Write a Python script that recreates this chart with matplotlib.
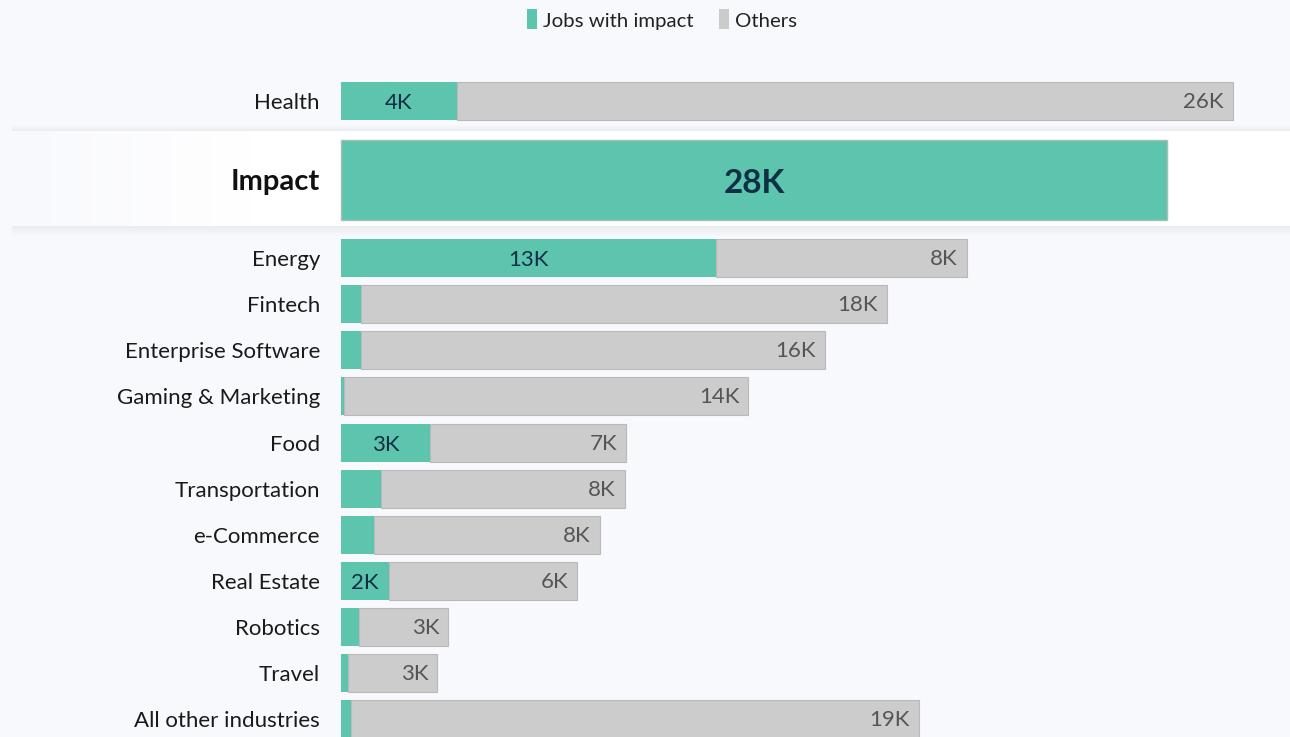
import matplotlib
matplotlib.use("Agg")
import matplotlib.pyplot as plt
from matplotlib.patches import Rectangle
from matplotlib.colors import LinearSegmentedColormap
import numpy as np

plt.rcParams['font.family'] = ['Lato', 'DejaVu Sans']

# Jobs per industry, in thousands
categories = ["Health", "Impact", "Energy", "Fintech", "Enterprise Software",
              "Gaming & Marketing", "Food", "Transportation", "e-Commerce",
              "Real Estate", "Robotics", "Travel", "All other industries"]
impact_jobs = [3.9, 27.8, 12.6, 0.67, 0.67, 0.1, 3.0, 1.35, 1.1, 1.6, 0.6, 0.24, 0.34]
other_jobs = [26.1, 0.0, 8.45, 17.7, 15.6, 13.6, 6.6, 8.2, 7.6, 6.35, 3.0, 3.0, 19.1]
impact_labels = ["4K", "28K", "13K", "", "", "", "3K", "", "", "2K", "", "", ""]
other_labels = ["26K", "", "8K", "18K", "16K", "14K", "7K", "8K", "8K", "6K", "3K", "3K", "19K"]

# Layout (figure pixels)
W, H = 1290, 737
row_y = [101, 180, 258, 304, 350, 396, 443, 489, 535, 581, 627, 673, 719]
row_h = [38, 80, 38, 38, 38, 38, 38, 38, 38, 38, 38, 38, 38]
x0_px, px_per_k = 341, 29.73

TEAL = "#5dc4ae"
GREY = "#cccccc"
BG = "#f8f9fd"
NAVY = "#0f2f45"

fig = plt.figure(figsize=(W / 100, H / 100), dpi=100, facecolor=BG)
ax = fig.add_axes([0, 0, 1, 1])
ax.set_facecolor(BG)


def px(v):
    return (v - x0_px) / px_per_k


# Highlight band for the "Impact" row with a soft shadow
band_top, band_bot = 131, 226
band_l, band_r = px(12), px(W + 10)
for i in range(14):
    ax.add_patch(Rectangle((band_l, band_top - i * 0.5),
                           band_r - band_l, band_bot - band_top + i * 1.3,
                           facecolor="#1c2340", alpha=0.0045, edgecolor="none",
                           zorder=1))
ax.add_patch(Rectangle((band_l, band_top), band_r - band_l, band_bot - band_top,
                       facecolor="white", edgecolor="none", zorder=2))
# fade at the left end of the band
grad = np.linspace(0, 1, 256).reshape(1, -1)
fade = LinearSegmentedColormap.from_list("fade", [BG, "#ffffff"])
ax.imshow(grad, cmap=fade, extent=(px(12), px(250), band_bot, band_top),
          aspect="auto", zorder=2.5, interpolation="bilinear")
ax.set_xlim(-x0_px / px_per_k, (W - x0_px) / px_per_k)
ax.set_ylim(H, 0)
ax.axis("off")

for i, cat in enumerate(categories):
    y, h = row_y[i], row_h[i]
    a, o = impact_jobs[i], other_jobs[i]
    ax.barh(y, o, left=a, height=h, color=GREY, edgecolor="#b9b9b9",
            linewidth=0.8, zorder=3)
    ax.barh(y, a, left=0, height=h, color=TEAL, edgecolor="none", zorder=4)
    if cat == "Impact":
        ax.barh(y, a, left=0, height=h, color="none", edgecolor="#a9c0b0",
                linewidth=1.0, zorder=4.5)
        ax.text(px(320), y + 2, cat, ha="right", va="center", fontsize=21,
                fontweight="bold", color="#111111", zorder=5)
        ax.text(a / 2, y + 3, impact_labels[i], ha="center", va="center",
                fontsize=24, fontweight="bold", color=NAVY, zorder=5)
    else:
        ax.text(px(320), y + 2, cat, ha="right", va="center", fontsize=16,
                color="#1a1a1a", zorder=5)
        if impact_labels[i]:
            ax.text(a / 2, y + 2, impact_labels[i], ha="center", va="center",
                    fontsize=16, color=NAVY, zorder=5)
        if other_labels[i]:
            ax.text(a + o - 9 / px_per_k, y + 1, other_labels[i], ha="right",
                    va="center", fontsize=16, color="#555555", zorder=5)

# Legend
ax.add_patch(Rectangle((px(527), 9), 10 / px_per_k, 20, facecolor=TEAL,
                       edgecolor="none", zorder=5))
ax.text(px(543), 21, "Jobs with impact", ha="left", va="center", fontsize=14.7,
        color="#222222", zorder=5)
ax.add_patch(Rectangle((px(719), 9), 10 / px_per_k, 20, facecolor="#c9cccb",
                       edgecolor="none", zorder=5))
ax.text(px(735), 21, "Others", ha="left", va="center", fontsize=14.7,
        color="#222222", zorder=5)

fig.savefig("out.png", dpi=100, facecolor=BG)
